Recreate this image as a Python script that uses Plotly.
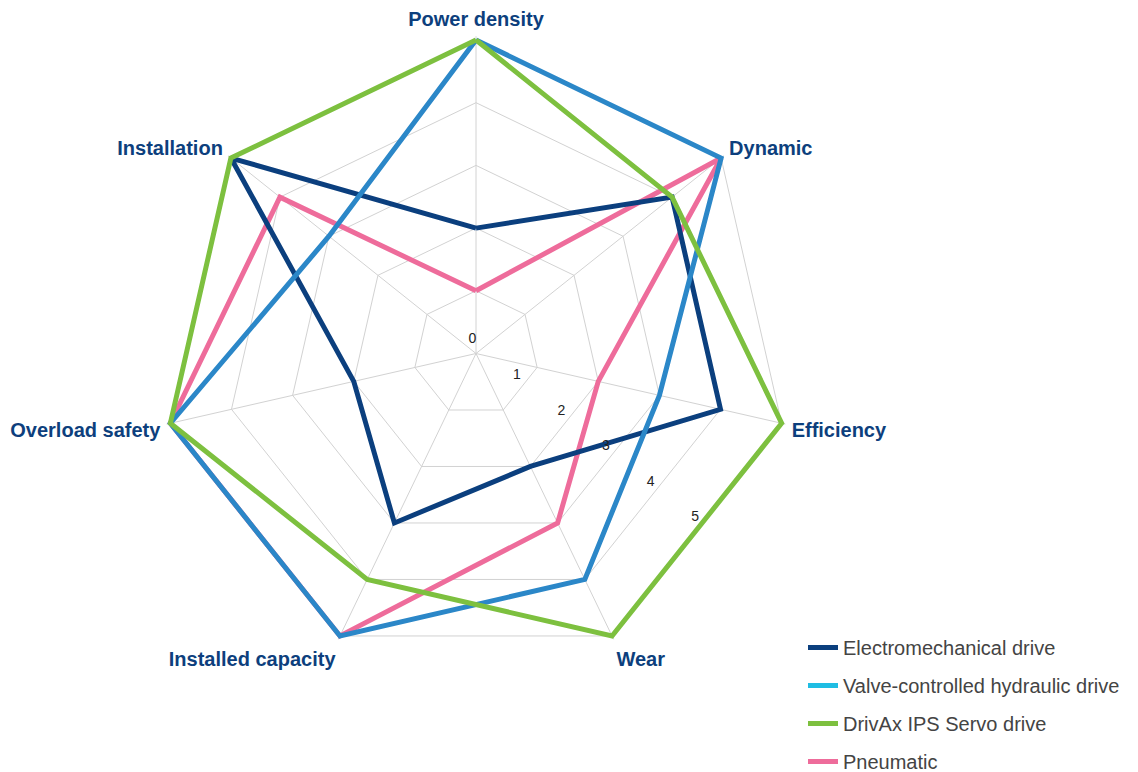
import plotly.graph_objects as go

categories = ["Power density", "Dynamic", "Efficiency", "Wear",
              "Installed capacity", "Overload safety", "Installation"]

electromechanical = [2, 4, 4, 2, 3, 2, 5]
hydraulic = [5, 5, 3, 4, 5, 5, 3]
drivax = [5, 4, 5, 5, 4, 5, 5]
pneumatic = [1, 5, 2, 3, 5, 5, 4]

radial_ticks = [0, 1, 2, 3, 4, 5]

NAVY = "#0b3f7e"
BLUE = "#2b87c8"
CYAN = "#1fbde3"
GREEN = "#7dc03f"
PINK = "#ee6c9b"
LABEL = "#0d3f7d"
GRID = "#d2d2d2"
FONT = "Liberation Sans, Arial, sans-serif"

W, H = 1130, 773  # page body adds an 8px margin inside the 1138x772 window
RMAX = 5.06       # a little headroom so the thick outer lines are not clipped
AXIS_ANGLE = -38.57


def closed(vals):
    return list(vals) + [vals[0]]


cats_closed = closed(categories)

fig = go.Figure()

common = dict(theta=cats_closed, mode="lines", hoverinfo="skip")

# drawing order: pink, navy, blue, green (green on top)
fig.add_trace(go.Scatterpolar(r=closed(pneumatic), name="Pneumatic",
                              line=dict(color=PINK, width=5),
                              legendrank=4, legendgroup="d", **common))
fig.add_trace(go.Scatterpolar(r=closed(electromechanical), name="Electromechanical drive",
                              line=dict(color=NAVY, width=5),
                              legendrank=1, legendgroup="a", **common))
fig.add_trace(go.Scatterpolar(r=closed(hydraulic), name="Valve-controlled hydraulic drive",
                              line=dict(color=BLUE, width=5), showlegend=False,
                              legendgroup="b", **common))
# legend swatch for the hydraulic drive is the lighter cyan
fig.add_trace(go.Scatterpolar(r=[None], theta=[categories[0]], mode="lines",
                              name="Valve-controlled hydraulic drive",
                              line=dict(color=CYAN, width=5), hoverinfo="skip",
                              legendrank=2, legendgroup="b"))
fig.add_trace(go.Scatterpolar(r=closed(drivax), name="DrivAx IPS Servo drive",
                              line=dict(color=GREEN, width=5),
                              legendrank=3, legendgroup="c", **common))
# helper subplot carrying only the radial tick labels
fig.add_trace(go.Scatterpolar(r=[None], theta=[0], mode="lines", subplot="polar2",
                              showlegend=False, hoverinfo="skip"))

cx, cy, R5 = 468.0, 345.5, 313.5
R = R5 * RMAX / 5
dom = dict(x=[(cx - R) / W, (cx + R) / W], y=[1 - (cy + R) / H, 1 - (cy - R) / H])

# tick-label subplot: slightly offset centre, 57 px per unit
lx, ly = cx - 14, cy - 9
dom2 = dict(x=[(lx - R) / W, (lx + R) / W], y=[1 - (ly + R) / H, 1 - (ly - R) / H])
label_range = R / 57.0

fig.update_layout(
    width=W, height=H,
    margin=dict(l=0, r=0, t=0, b=0),
    paper_bgcolor="white",
    plot_bgcolor="white",
    font=dict(family=FONT),
    polar=dict(
        domain=dom,
        bgcolor="white",
        gridshape="linear",
        angularaxis=dict(
            direction="clockwise", rotation=90,
            categoryorder="array", categoryarray=categories,
            showline=False,
            gridcolor=GRID, gridwidth=1,
            ticks="outside", ticklen=2, tickcolor="rgba(0,0,0,0)",
            tickfont=dict(size=20, color=LABEL, weight="bold", family=FONT),
        ),
        radialaxis=dict(
            range=[0, RMAX], tickvals=radial_ticks,
            angle=AXIS_ANGLE, showticklabels=False,
            showline=False, ticks="",
            gridcolor=GRID, gridwidth=1,
        ),
    ),
    polar2=dict(
        domain=dom2,
        bgcolor="rgba(0,0,0,0)",
        angularaxis=dict(visible=False, direction="clockwise", rotation=90),
        radialaxis=dict(
            range=[0, label_range], tickvals=radial_ticks,
            ticktext=[str(t) for t in radial_ticks],
            angle=AXIS_ANGLE, side="counterclockwise", tickangle=AXIS_ANGLE,
            showline=False, showgrid=False, ticks="",
            tickfont=dict(size=14, color="#222222", family=FONT),
        ),
    ),
    legend=dict(
        x=795 / W, xanchor="left", y=0.0, yanchor="bottom",
        font=dict(size=20, color="#444444", family=FONT),
        tracegroupgap=9,
        bgcolor="rgba(0,0,0,0)",
    ),
    showlegend=True,
)

fig.write_html("out.html")
